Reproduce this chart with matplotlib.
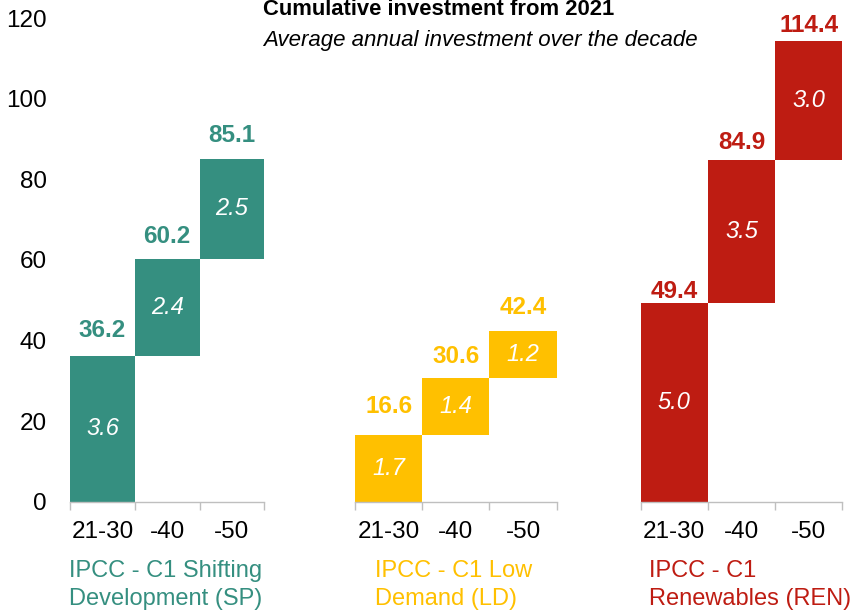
import matplotlib
matplotlib.use("Agg")
import matplotlib.pyplot as plt
import numpy as np

plt.rcParams["font.family"] = ["Liberation Sans", "DejaVu Sans"]

# ---- data ----
periods = ["21-30", "-40", "-50"]
scenarios = ["IPCC - C1 Shifting\nDevelopment (SP)",
             "IPCC - C1 Low\nDemand (LD)",
             "IPCC - C1\nRenewables (REN)"]
cumulative_sp = [36.2, 60.2, 85.1]
cumulative_ld = [16.6, 30.6, 42.4]
cumulative_ren = [49.4, 84.9, 114.4]
annual_sp = [3.6, 2.4, 2.5]
annual_ld = [1.7, 1.4, 1.2]
annual_ren = [5.0, 3.5, 3.0]
y_ticks = [0, 20, 40, 60, 80, 100, 120]

# ---- styling ----
colors = ["#358F80", "#FFC000", "#BE1C12"]
W, H, DPI = 857, 610, 100
PX = 72.0 / DPI                      # points per pixel
axis_grey = "#BFBFBF"

# panel extents in pixels (left, right); shared vertical extent
panel_x = [(70, 264.3), (355, 556.7), (640.7, 842.3)]
y0_px, y120_px = 501.7, 18.1
# lift of each total label's baseline above its bar (pixels)
label_lift = [[19, 16, 17], [22, 15, 17], [5, 11, 9]]
# left edge of each scenario caption (pixels)
caption_x = [69, 375, 649]

fig = plt.figure(figsize=(W / DPI, H / DPI), dpi=DPI)

cumulative = [cumulative_sp, cumulative_ld, cumulative_ren]
annual = [annual_sp, annual_ld, annual_ren]

for g in range(3):
    left, right = panel_x[g]
    ax = fig.add_axes([left / W, (H - y0_px) / H,
                       (right - left) / W, (y0_px - y120_px) / H])
    tops = np.array(cumulative[g])
    bottoms = np.concatenate([[0.0], tops[:-1]])
    x = np.arange(len(periods))
    ax.bar(x, tops - bottoms, bottom=bottoms, width=1.0,
           color=colors[g], linewidth=0)

    for i in range(len(periods)):
        ax.annotate(f"{tops[i]:.1f}", xy=(x[i], tops[i]),
                    xytext=(0, label_lift[g][i] * PX), textcoords="offset points",
                    ha="center", va="baseline", fontsize=17.5,
                    fontweight="bold", color=colors[g], annotation_clip=False)
        ax.text(x[i], (tops[i] + bottoms[i]) / 2, f"{annual[g][i]:.1f}",
                ha="center", va="center", fontsize=17, style="italic",
                color="white")

    ax.set_xlim(-0.5, len(periods) - 0.5)
    ax.set_ylim(y_ticks[0], y_ticks[-1])
    for side in ("top", "right", "left"):
        ax.spines[side].set_visible(False)
    ax.spines["bottom"].set_color(axis_grey)
    ax.spines["bottom"].set_linewidth(1.0)

    ax.set_xticks(x)
    ax.set_xticklabels(periods, fontsize=17.5)
    ax.set_xticks(np.arange(len(periods) + 1) - 0.5, minor=True)
    ax.tick_params(axis="x", which="major", length=0, pad=14)
    ax.tick_params(axis="x", which="minor", length=5.5, width=1.0,
                   color=axis_grey, direction="out")

    if g == 0:
        ax.set_yticks(y_ticks)
        ax.tick_params(axis="y", length=0, pad=16.8, labelsize=17.5)
    else:
        ax.set_yticks([])

    fig.text(caption_x[g] / W, (H - 560) / H, scenarios[g], ha="left",
             va="top", fontsize=17, color=colors[g], linespacing=1.33)

fig.text(262.7 / W, (H - 15) / H, "Cumulative investment from 2021",
         ha="left", va="baseline", fontsize=15.8, fontweight="bold")
fig.text(262.7 / W, (H - 46) / H, "Average annual investment over the decade",
         ha="left", va="baseline", fontsize=16, style="italic")

fig.savefig("out.png", dpi=DPI)
